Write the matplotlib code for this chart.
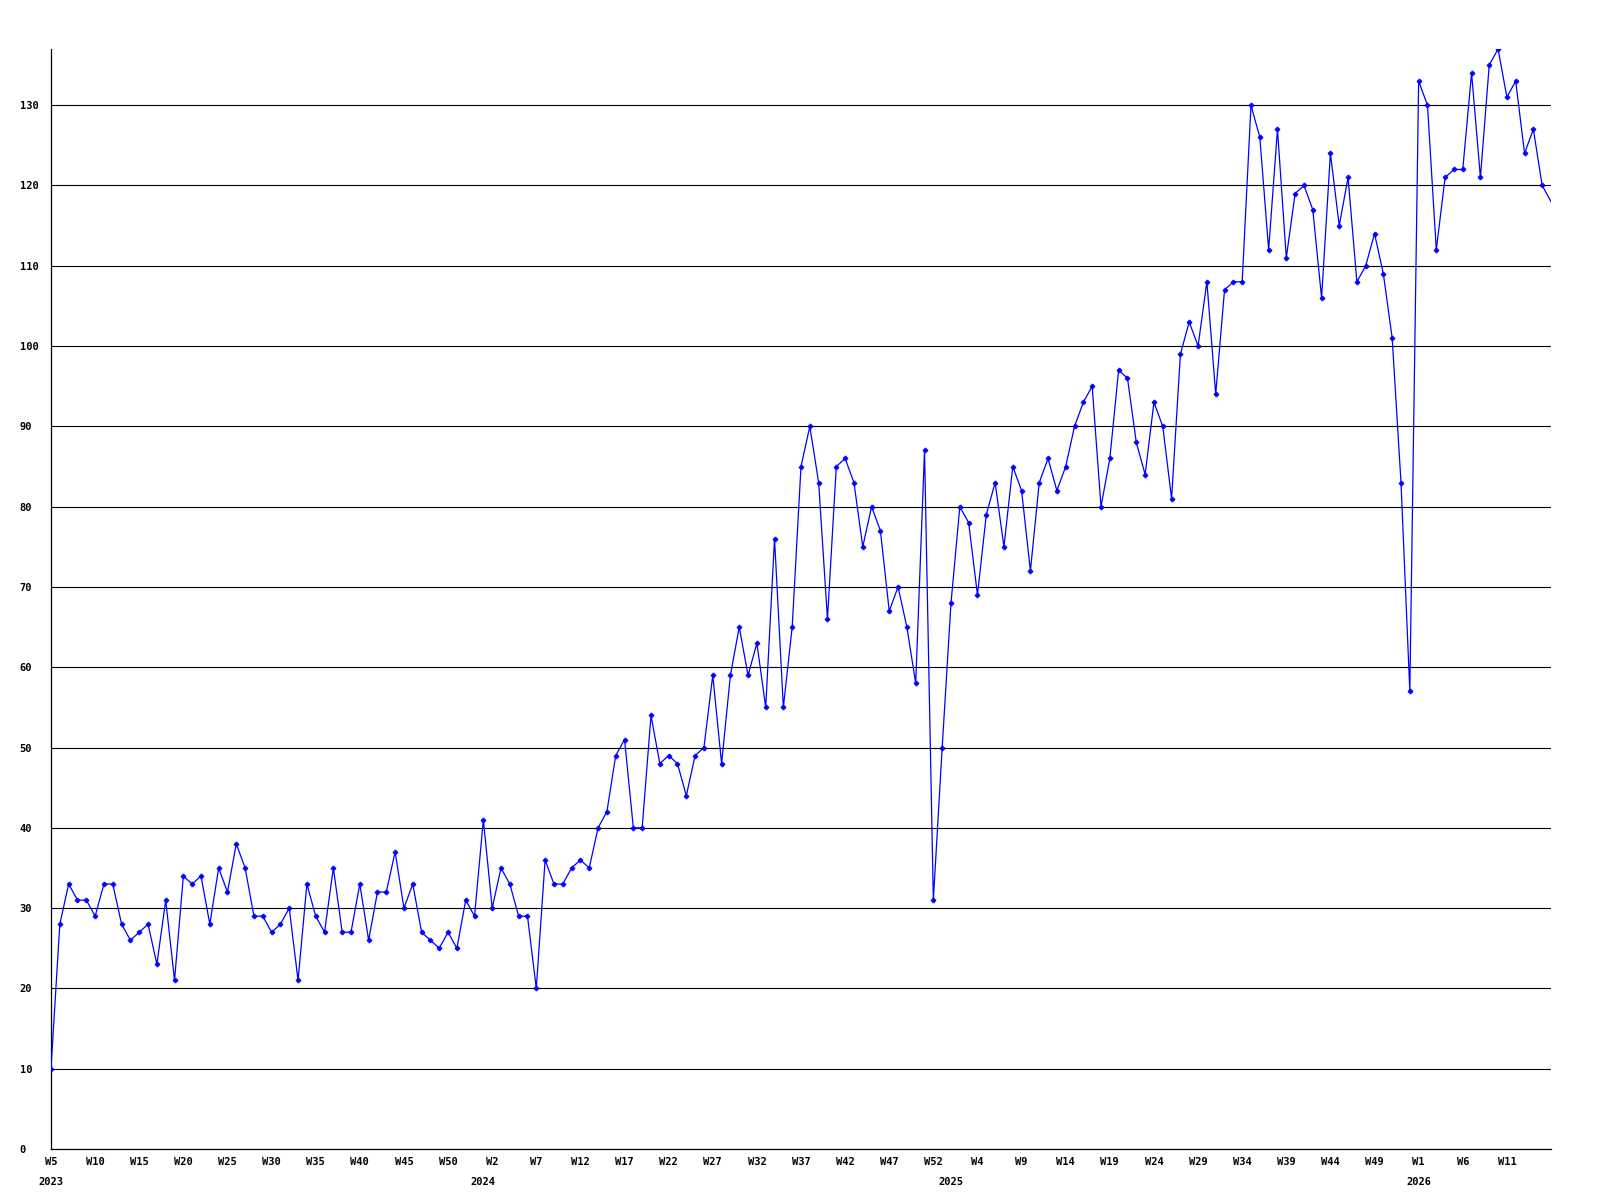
import matplotlib
matplotlib.use("Agg")
import matplotlib.pyplot as plt
import matplotlib.transforms as mtransforms

values = [
    10, 28, 33, 31, 31, 29, 33, 33, 28, 26, 27, 28, 23, 31, 21, 34, 33, 34, 28, 35,
    32, 38, 35, 29, 29, 27, 28, 30, 21, 33, 29, 27, 35, 27, 27, 33, 26, 32, 32, 37,
    30, 33, 27, 26, 25, 27, 25, 31, 29, 41, 30, 35, 33, 29, 29, 20, 36, 33, 33, 35,
    36, 35, 40, 42, 49, 51, 40, 40, 54, 48, 49, 48, 44, 49, 50, 59, 48, 59, 65, 59,
    63, 55, 76, 55, 65, 85, 90, 83, 66, 85, 86, 83, 75, 80, 77, 67, 70, 65, 58, 87,
    31, 50, 68, 80, 78, 69, 79, 83, 75, 85, 82, 72, 83, 86, 82, 85, 90, 93, 95, 80,
    86, 97, 96, 88, 84, 93, 90, 81, 99, 103, 100, 108, 94, 107, 108, 108, 130, 126, 112, 127,
    111, 119, 120, 117, 106, 124, 115, 121, 108, 110, 114, 109, 101, 83, 57, 133, 130, 112, 121, 122,
    122, 134, 121, 135, 137, 131, 133, 124, 127, 120, 118,
]

tick_labels = ["W5", "W10", "W15", "W20", "W25", "W30", "W35", "W40", "W45", "W50",
               "W2", "W7", "W12", "W17", "W22", "W27", "W32", "W37", "W42", "W47",
               "W52", "W4", "W9", "W14", "W19", "W24", "W29", "W34", "W39", "W44",
               "W49", "W1", "W6", "W11"]
tick_step = 5

year_labels = ["2023", "2024", "2025", "2026"]
year_index = [0, 49, 102, 155]

y_ticks = list(range(0, 140, 10))

font = dict(family="DejaVu Sans Mono", weight="bold", size=7.5)

fig = plt.figure(figsize=(16, 12), dpi=100)
ax = fig.add_axes([51 / 1600, 1 - 1149 / 1200, 1500 / 1600, 1100 / 1200])

x = list(range(len(values)))
# line through all points, markers for all but the clipped last one
ax.plot(x, values, color="#0000ff", lw=0.9, zorder=3)
ax.plot(x[:-1], values[:-1], ls="none", marker="P", ms=3.4,
        mec="#0000ff", mfc="#0000ff", mew=0.5, zorder=4)

ax.set_xlim(0, len(values) - 1)
ax.set_ylim(0, max(values))

for v in y_ticks[1:]:
    ax.axhline(v, color="black", lw=0.8, zorder=1)

ax.set_yticks(y_ticks)
ax.set_yticklabels([str(v) for v in y_ticks], fontdict=font, ha="left")
ax.tick_params(axis="y", length=0, pad=22.5)

ax.set_xticks([i * tick_step for i in range(len(tick_labels))])
ax.set_xticklabels(tick_labels, fontdict=font)
ax.tick_params(axis="x", length=0, pad=6)

trans = mtransforms.blended_transform_factory(ax.transData, ax.transAxes)
for lab, idx in zip(year_labels, year_index):
    ax.text(idx, -0.0255, lab, transform=trans, ha="center", va="top", **font)

for s in ["top", "right"]:
    ax.spines[s].set_visible(False)
for s in ["left", "bottom"]:
    ax.spines[s].set_color("black")
    ax.spines[s].set_linewidth(0.9)
ax.set_facecolor("white")

fig.savefig("out.png", dpi=100, facecolor="white")
